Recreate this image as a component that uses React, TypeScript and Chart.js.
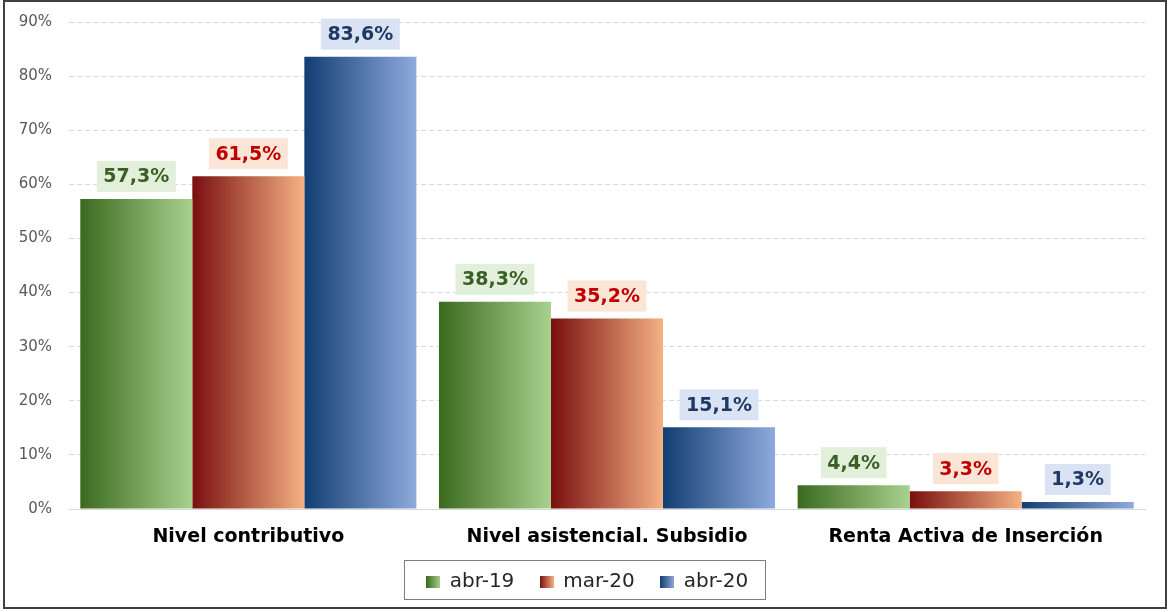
import React, { useEffect, useRef } from "react";
import { Chart, registerables } from "chart.js";

Chart.register(...registerables);

const categories = ["Nivel contributivo", "Nivel asistencial. Subsidio", "Renta Activa de Inserción"];
const seriesNames = ["abr-19", "mar-20", "abr-20"];
const abr19 = [57.3, 38.3, 4.4];
const mar20 = [61.5, 35.2, 3.3];
const abr20 = [83.6, 15.1, 1.3];
const yMax = 90;
const yStep = 10;

const gradientStops = [
  ["#3b6a1f", "#a9d18e"],
  ["#7a0f0f", "#f4b183"],
  ["#123e73", "#8faadc"],
];
const labelText = ["#3a5f24", "#c00000", "#203864"];
const labelBox = ["#e2efda", "#fbe5d6", "#dae3f3"];

const FONT = "'DejaVu Sans', Verdana, sans-serif";
const CAT_PCT = 0.937;
const LEGEND_SHIFT = 15;
const LEGEND_PAD = 26;
const LEGEND_FONT = 20;

const fmt = (v: number) => v.toFixed(1).replace(".", ",") + "%";

function makeMarker(di: number): HTMLCanvasElement {
  const c = document.createElement("canvas");
  c.width = 14;
  c.height = 12;
  const g = c.getContext("2d")!;
  const gr = g.createLinearGradient(0, 0, 14, 0);
  gr.addColorStop(0, gradientStops[di][0]);
  gr.addColorStop(1, gradientStops[di][1]);
  g.fillStyle = gr;
  g.fillRect(0, 0, 14, 12);
  return c;
}

function barGradient(ctx: any) {
  const chart = ctx.chart;
  const di = ctx.datasetIndex;
  const xs = chart.scales.x;
  const area = chart.chartArea;
  if (!xs || !area || ctx.dataIndex === undefined) return gradientStops[di][1];
  const center = xs.getPixelForValue(ctx.dataIndex);
  const catW = (area.right - area.left) / categories.length;
  const group = catW * CAT_PCT;
  const bw = group / 3;
  const left = center - group / 2 + di * bw;
  const gr = chart.ctx.createLinearGradient(left, 0, left + bw, 0);
  gr.addColorStop(0, gradientStops[di][0]);
  gr.addColorStop(1, gradientStops[di][1]);
  return gr;
}

const valueLabels = {
  id: "valueLabels",
  afterDatasetsDraw(chart: any) {
    const ctx = chart.ctx;
    ctx.save();
    chart.data.datasets.forEach((ds: any, di: number) => {
      const meta = chart.getDatasetMeta(di);
      meta.data.forEach((bar: any, i: number) => {
        const text = fmt(ds.data[i]);
        ctx.font = `bold 19px ${FONT}`;
        const w = ctx.measureText(text).width;
        const bw = w + 13;
        const bh = 31;
        const yb = bar.y - 7;
        ctx.fillStyle = labelBox[di];
        ctx.fillRect(bar.x - bw / 2, yb - bh, bw, bh);
        ctx.fillStyle = labelText[di];
        ctx.textAlign = "center";
        ctx.textBaseline = "middle";
        ctx.fillText(text, bar.x, yb - bh / 2 + 1);
      });
    });
    ctx.restore();
  },
};

const legendShift = {
  id: "legendShift",
  afterUpdate(chart: any) {
    const lg = chart.legend;
    if (!lg) return;
    lg.left += LEGEND_SHIFT;
    lg.right += LEGEND_SHIFT;
  },
};

const frames = {
  id: "frames",
  afterDraw(chart: any) {
    const ctx = chart.ctx;
    ctx.save();
    ctx.strokeStyle = "#404040";
    ctx.lineWidth = 2;
    ctx.strokeRect(4, 1, 1162, 607);
    const lg = chart.legend;
    if (lg && lg.lineWidths && lg.lineWidths.length) {
      const lw = lg.lineWidths[0];
      const x0 = (lg.left + LEGEND_PAD + lg.right - lw) / 2;
      const x1 = x0 + lw - LEGEND_PAD;
      const cy = lg.top + LEGEND_PAD + LEGEND_FONT / 2;
      const l = x0 - 23;
      const r = x1 + 17;
      ctx.strokeStyle = "#7f7f7f";
      ctx.lineWidth = 1;
      ctx.strokeRect(Math.round(l) + 0.5, Math.round(cy - 22) + 0.5, Math.round(r - l), 39);
    }
    ctx.restore();
  },
};

export default function App() {
  const ref = useRef<HTMLCanvasElement | null>(null);
  useEffect(() => {
    if (!ref.current) return;
    const data = [abr19, mar20, abr20];
    const chart = new Chart(ref.current, {
      type: "bar",
      data: {
        labels: categories,
        datasets: seriesNames.map((name, di) => ({
          label: name,
          data: data[di],
          backgroundColor: barGradient,
          borderWidth: 0,
          categoryPercentage: CAT_PCT,
          barPercentage: 1,
          pointStyle: makeMarker(di),
        })),
      },
      options: {
        responsive: false,
        maintainAspectRatio: false,
        animation: false,
        layout: { padding: { left: 0, right: 23, top: 22, bottom: 10 } },
        plugins: {
          tooltip: { enabled: false },
          legend: {
            display: true,
            position: "bottom",
            labels: {
              usePointStyle: true,
              pointStyleWidth: 13,
              padding: LEGEND_PAD,
              color: "#262626",
              font: { family: FONT, size: LEGEND_FONT },
            },
          },
        },
        scales: {
          x: {
            grid: { display: false, drawTicks: false },
            border: { display: true, color: "#d9d9d9", width: 1 },
            ticks: {
              color: "#000",
              padding: 17,
              font: { family: FONT, size: 19, weight: "bold" },
            },
            afterFit: (s: any) => {
              s.height = 37;
            },
          },
          y: {
            min: 0,
            max: yMax,
            grid: { color: "#d9d9d9", lineWidth: 1, drawTicks: false },
            border: { display: false, dash: [5, 3] },
            ticks: {
              stepSize: yStep,
              padding: 17,
              color: "#595959",
              font: { family: FONT, size: 15 },
              callback: (v: any) => v + "%",
            },
            afterFit: (s: any) => {
              s.width = 69;
              s.paddingTop = 0;
              s.paddingBottom = 0;
            },
          },
        },
      },
      plugins: [valueLabels, legendShift, frames],
    });
    return () => chart.destroy();
  }, []);
  return (
    <div style={{ position: "fixed", left: 0, top: 0, width: 1168, height: 612, background: "#fff" }}>
      <canvas ref={ref} width={1168} height={612} />
    </div>
  );
}
